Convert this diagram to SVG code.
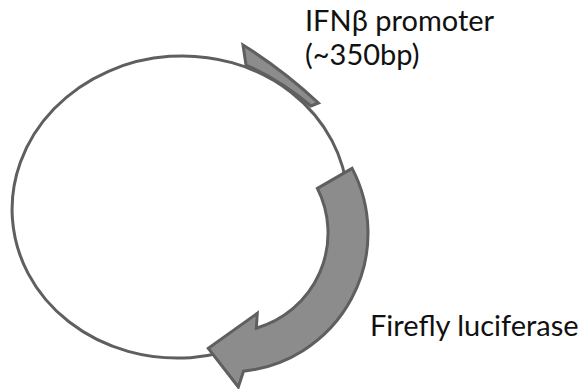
<svg xmlns="http://www.w3.org/2000/svg" width="584" height="389" viewBox="0 0 584 389">
<style>
.bb{fill:none;stroke:#5f5f5f;stroke-width:3}
.feat{fill:#8c8c8c;stroke:#5f5f5f;stroke-width:3;stroke-linejoin:miter}
.lbl{font-family:Lato,"Open Sans","Liberation Sans",sans-serif;font-size:29px;fill:#111}
</style>
<rect width="584" height="389" fill="#fff"/>
<g id="plasmid">
<ellipse class="bb" cx="180" cy="207" rx="168" ry="151" transform="rotate(-4 180 207)"/>
</g>
<g id="connectors"></g>
<g id="promoter">
<path class="feat" d="M243,45 L246,65 Q280,80 311,106 L318.5,103 Q283,70 243,45 Z"/>
<text class="lbl" x="305" y="31">IFNβ promoter</text>
<text class="lbl" x="305" y="65">(~350bp)</text>
</g>
<g id="luciferase">
<path class="feat" d="M352.1,168.4 L317.4,188.4 A99,99 0 0 1 256.3,328.2 L257.3,313.3 L208.3,348.3 L238.3,387 L243.5,371.2 A139,139 0 0 0 352.1,168.4 Z"/>
<text class="lbl" x="370" y="336">Firefly luciferase</text>
</g>
</svg>
